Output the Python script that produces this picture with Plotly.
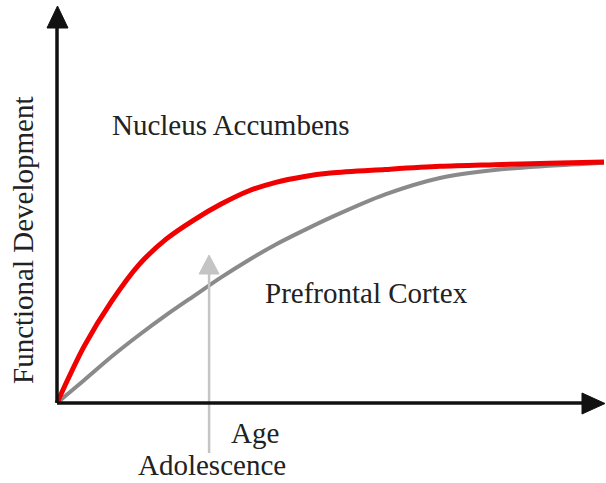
import plotly.graph_objects as go

# ---- data ----
age = [0, 0.5, 1, 1.5, 2, 2.5, 3, 3.5, 4, 4.5, 5, 6, 7, 8, 9, 10]
nucleus_accumbens = [0, 0.236, 0.421, 0.572, 0.678, 0.756, 0.822, 0.876, 0.912, 0.935, 0.950, 0.965, 0.978, 0.985, 0.991, 0.996]
prefrontal_cortex = [0, 0.095, 0.192, 0.281, 0.364, 0.442, 0.519, 0.590, 0.655, 0.712, 0.766, 0.862, 0.930, 0.963, 0.980, 0.993]
adolescence_age = 2.78
labels = {"na": "Nucleus Accumbens", "pfc": "Prefrontal Cortex", "x": "Age",
          "y": "Functional Development", "adol": "Adolescence"}

W, H = 606, 483
OX, OY = 57, 403        # pixel origin
SX, SY = 54.7, 242.0    # px per data unit

def dx(px):
    return (px - OX) / SX

def dy(py):
    return (OY - py) / SY

fig = go.Figure()
fig.add_trace(go.Scatter(x=age, y=prefrontal_cortex, mode="lines",
                         line=dict(color="#8a8a8a", width=4, shape="spline", smoothing=0.9),
                         hoverinfo="skip"))
fig.add_trace(go.Scatter(x=age, y=nucleus_accumbens, mode="lines",
                         line=dict(color="#f00000", width=5, shape="spline", smoothing=0.9),
                         hoverinfo="skip"))

shapes = []
# Adolescence arrow (light gray)
ax = adolescence_age
shapes.append(dict(type="line", x0=ax, x1=ax, y0=dy(453), y1=dy(272),
                   line=dict(color="#c4c4c4", width=2.5), layer="above"))
shapes.append(dict(type="path",
                   path=f"M {ax - 10/SX} {dy(274)} L {ax + 10/SX} {dy(274)} L {ax} {dy(255)} Z",
                   fillcolor="#c4c4c4", line=dict(color="#c4c4c4", width=1), layer="above"))
# axes
shapes.append(dict(type="line", x0=0, y0=0, x1=0, y1=dy(26), line=dict(color="#111", width=3.5)))
shapes.append(dict(type="path",
                   path=f"M {dx(47)} {dy(28)} L {dx(68)} {dy(28)} L {dx(57.5)} {dy(6)} Z",
                   fillcolor="#111", line=dict(color="#111", width=1)))
shapes.append(dict(type="line", x0=0, y0=0, x1=dx(584), y1=0, line=dict(color="#111", width=3.5)))
shapes.append(dict(type="path",
                   path=f"M {dx(582)} {dy(393)} L {dx(582)} {dy(414)} L {dx(605)} {dy(403.5)} Z",
                   fillcolor="#111", line=dict(color="#111", width=1)))

font = dict(family="Liberation Serif, Times New Roman, serif", size=29, color="#222222")
ann = [
    dict(x=dx(231), y=dy(125), text=labels["na"]),
    dict(x=dx(366), y=dy(293), text=labels["pfc"]),
    dict(x=dx(255), y=dy(433), text=labels["x"]),
    dict(x=dx(212), y=dy(465), text=labels["adol"]),
    dict(x=dx(23), y=dy(240), text=labels["y"], textangle=-90),
]
for a in ann:
    a.update(showarrow=False, xanchor="center", yanchor="middle", font=font)

fig.update_layout(
    width=W, height=H, margin=dict(l=0, r=0, t=0, b=0),
    paper_bgcolor="white", plot_bgcolor="white", showlegend=False,
    xaxis=dict(range=[dx(0), dx(W)], visible=False, fixedrange=True),
    yaxis=dict(range=[dy(H), dy(0)], visible=False, fixedrange=True),
    shapes=shapes, annotations=ann,
)
fig.write_html("out.html", config={"displayModeBar": False},
               post_script="document.body.style.margin='0';document.body.style.overflow='hidden';")
